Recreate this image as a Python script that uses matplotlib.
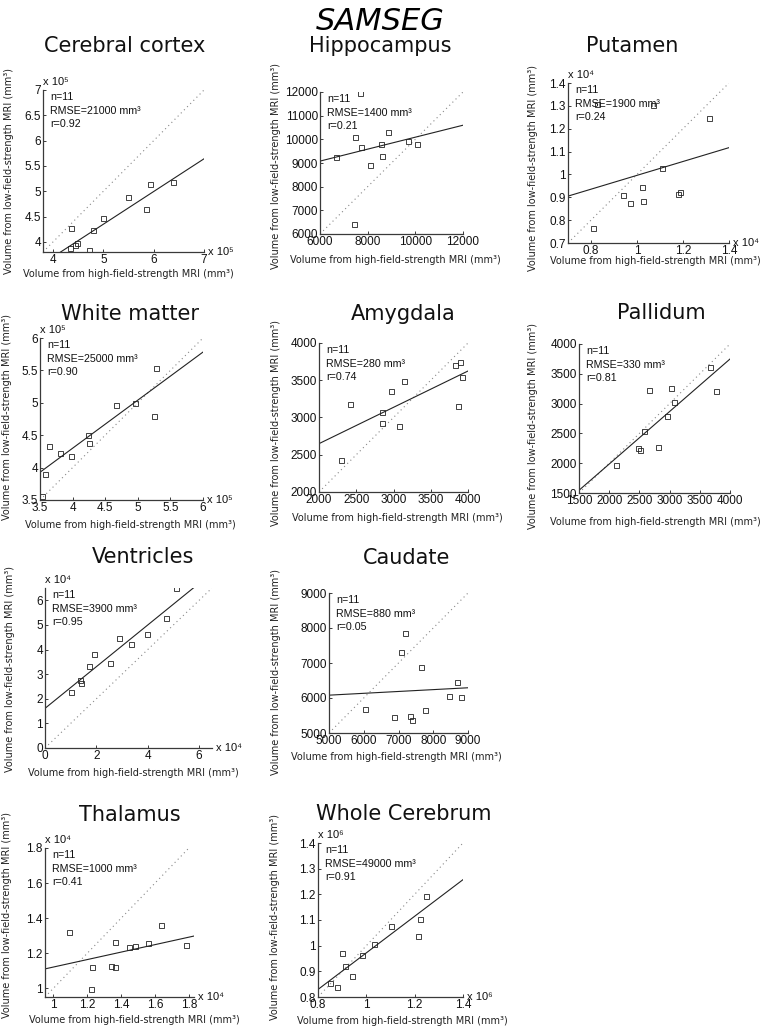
import numpy as np
import matplotlib
matplotlib.use("Agg")
import matplotlib.pyplot as plt
from matplotlib.ticker import FuncFormatter, FixedLocator

# ---------------- data ----------------
titles = ["Cerebral cortex", "Hippocampus", "Putamen", "White matter", "Amygdala",
          "Pallidum", "Ventricles", "Caudate", "Thalamus", "Whole Cerebrum"]

cortex_x = [436000, 434000, 443000, 447000, 479000, 471000, 499000, 548000, 585000, 593000, 639000]
cortex_y = [428000, 387000, 393000, 397000, 424000, 384000, 448000, 489000, 465000, 515000, 519000]
hippo_x = [7690, 7480, 6660, 7730, 8540, 8870, 8090, 8610, 9710, 10090, 7440]
hippo_y = [11970, 10090, 9250, 9680, 9810, 10300, 8920, 9290, 9910, 9820, 6410]
putamen_x = [8100, 9390, 9700, 10230, 10260, 11090, 11800, 11880, 13130, 10700, 8250]
putamen_y = [7650, 9080, 8730, 9430, 8830, 10270, 9150, 9210, 12490, 13050, 13080]
wm_x = [352600, 357200, 363300, 380700, 398000, 424300, 425800, 466300, 496000, 525200, 527300]
wm_y = [356200, 390200, 434000, 422700, 418600, 451000, 437600, 495900, 499000, 478900, 553100]
amyg_x = [2290, 2420, 2850, 2840, 2960, 3070, 3140, 3820, 3890, 3920, 3870]
amyg_y = [2430, 3180, 3070, 2920, 3360, 2880, 3490, 3700, 3750, 3550, 3160]
pall_x = [2110, 2470, 2510, 2570, 2660, 2810, 2960, 3030, 3080, 3670, 3760]
pall_y = [1970, 2250, 2220, 2540, 3230, 2280, 2790, 3260, 3020, 3610, 3210]
vent_x = [10100, 13800, 14000, 17100, 19000, 25200, 28900, 33500, 39600, 47200, 51000]
vent_y = [22800, 27600, 26300, 33300, 38200, 34400, 44600, 42200, 46400, 52800, 64800]
caud_x = [6030, 6860, 7060, 7180, 7320, 7400, 7650, 7750, 8450, 8690, 8800]
caud_y = [5700, 5450, 7310, 7870, 5490, 5370, 6880, 5670, 6060, 6460, 6040]
thal_x = [10900, 12280, 12190, 13380, 13630, 13650, 14490, 14820, 15580, 16340, 17820]
thal_y = [13200, 11210, 9980, 11280, 11210, 12640, 12360, 12410, 12570, 13620, 12490]
wc_x = [851000, 877000, 898000, 913000, 939000, 981000, 1030000, 1103000, 1214000, 1223000, 1248000]
wc_y = [853000, 839000, 971000, 920000, 881000, 962000, 1005000, 1078000, 1036000, 1103000, 1194000]

xs = [cortex_x, hippo_x, putamen_x, wm_x, amyg_x, pall_x, vent_x, caud_x, thal_x, wc_x]
ys = [cortex_y, hippo_y, putamen_y, wm_y, amyg_y, pall_y, vent_y, caud_y, thal_y, wc_y]

fit_slope = [0.646, 0.2527, 0.303, 0.742, 0.4875, 0.881, 0.847, 0.0528, 0.213, 0.713]
fit_intercept = [111900, 7564, 6930, 133100, 1674, 224, 16100, 5817, 9080, 259000]

n_subjects = [11] * 10
rmse = [21000, 1400, 1900, 25000, 280, 330, 3900, 880, 1000, 49000]
r_vals = ["0.92", "0.21", "0.24", "0.90", "0.74", "0.81", "0.95", "0.05", "0.41", "0.91"]

xlims = [(380000, 700000), (6000, 12000), (7000, 14000), (350000, 600000), (2000, 4000),
         (1500, 4000), (0, 65000), (5000, 9000), (9500, 18300), (800000, 1400000)]
ylims = [(380000, 700000), (6000, 12000), (7000, 14000), (350000, 600000), (2000, 4000),
         (1500, 4000), (0, 65000), (5000, 9000), (9500, 18000), (800000, 1400000)]
exponents = [5, None, 4, 5, None, None, 4, None, 4, 6]
xticks = [[4e5, 5e5, 6e5, 7e5], [6000, 8000, 10000, 12000], [8000, 10000, 12000, 14000],
          [3.5e5, 4e5, 4.5e5, 5e5, 5.5e5, 6e5], [2000, 2500, 3000, 3500, 4000],
          [1500, 2000, 2500, 3000, 3500, 4000], [0, 20000, 40000, 60000],
          [5000, 6000, 7000, 8000, 9000], [10000, 12000, 14000, 16000, 18000],
          [8e5, 1e6, 1.2e6, 1.4e6]]
yticks = [[4e5, 4.5e5, 5e5, 5.5e5, 6e5, 6.5e5, 7e5], [6000, 7000, 8000, 9000, 10000, 11000, 12000],
          [7000, 8000, 9000, 10000, 11000, 12000, 13000, 14000],
          [3.5e5, 4e5, 4.5e5, 5e5, 5.5e5, 6e5], [2000, 2500, 3000, 3500, 4000],
          [1500, 2000, 2500, 3000, 3500, 4000], [0, 10000, 20000, 30000, 40000, 50000, 60000],
          [5000, 6000, 7000, 8000, 9000], [10000, 12000, 14000, 16000, 18000],
          [8e5, 9e5, 1e6, 1.1e6, 1.2e6, 1.3e6, 1.4e6]]

xlabel_text = "Volume from high-field-strength MRI (mm³)"
ylabel_text = "Volume from low-field-strength MRI (mm³)"
suptitle_text = "SAMSEG"

# ---------------- layout (pixels) ----------------
W, H = 760, 1027
boxes = [(43, 90, 204, 252), (320, 92, 463, 234), (568, 83, 729, 243),
         (40, 338, 203, 500), (319, 343, 468, 492), (579, 344, 730, 493),
         (45, 588, 212, 748), (329, 593, 468, 733),
         (45, 848, 194, 997), (318, 843, 463, 997)]
title_pos = [(125, 46), (380, 46), (632, 46), (130, 314), (403, 314), (661, 313),
             (143, 557), (407, 558), (130, 815), (404, 814)]
xlabel_pos = [(128, 274), (395, 260), (655, 261), (130, 525), (397, 518), (655, 522),
              (133, 773), (396, 757), (134, 1020), (402, 1021)]
ylabel_pos = [(9, 171), (276, 166), (533, 168), (7, 417), (276, 423), (533, 426),
              (10, 669), (276, 672), (7, 915), (275, 917)]

fig = plt.figure(figsize=(W / 100, H / 100), dpi=100)
fig.patch.set_facecolor("white")

tick_font = ["Liberation Sans", "DejaVu Sans"]
label_font = ["DejaVu Sans"]
axis_color = "#3a3a3a"

fig.text(380 / W, 1 - 21 / H, suptitle_text, ha="center", va="center",
         fontsize=22, style="italic", family=["DejaVu Sans"])

for i in range(10):
    L, T, R, B = boxes[i]
    ax = fig.add_axes([L / W, 1 - B / H, (R - L) / W, (B - T) / H])
    ax.set_facecolor("none")
    x = np.array(xs[i], dtype=float)
    y = np.array(ys[i], dtype=float)
    x0, x1 = xlims[i]
    y0, y1 = ylims[i]
    lo, hi = min(x0, y0), max(x1, y1)
    ax.plot([lo, hi], [lo, hi], linestyle=(0, (1, 3)), color="#888888", lw=0.8)
    fx = np.array([x0, x1])
    ax.plot(fx, fit_slope[i] * fx + fit_intercept[i], color="#222222", lw=0.8)
    ax.plot(x, y, linestyle="none", marker="s", ms=3.6, mfc="none", mec="#222222", mew=0.6)
    ax.set_xlim(x0, x1)
    ax.set_ylim(y0, y1)
    for s in ["top", "right"]:
        ax.spines[s].set_visible(False)
    for s in ["left", "bottom"]:
        ax.spines[s].set_color(axis_color)
        ax.spines[s].set_linewidth(0.9)
    e = exponents[i]
    scale = 10.0 ** e if e is not None else 1.0
    fmt = FuncFormatter(lambda v, p, s=scale: "%g" % round(v / s, 6))
    ax.xaxis.set_major_locator(FixedLocator(xticks[i]))
    ax.yaxis.set_major_locator(FixedLocator(yticks[i]))
    ax.xaxis.set_major_formatter(fmt)
    ax.yaxis.set_major_formatter(fmt)
    ax.tick_params(direction="in", length=2.5, width=0.7, color=axis_color,
                   labelsize=8.5, pad=1.5, labelcolor="#111111")
    for lab in ax.get_xticklabels() + ax.get_yticklabels():
        lab.set_family(tick_font)
    if e is not None:
        sup = {4: "⁴", 5: "⁵", 6: "⁶"}[e]
        ax.annotate("x 10" + sup, xy=(0, 1), xycoords="axes fraction", xytext=(0, 2),
                    textcoords="offset points", ha="left", va="bottom", fontsize=8,
                    family=tick_font, color="#111111")
        ax.annotate("x 10" + sup, xy=(1, 0), xycoords="axes fraction", xytext=(3, 0),
                    textcoords="offset points", ha="left", va="center", fontsize=8,
                    family=tick_font, color="#111111")
    lines = ["n=%d" % n_subjects[i], "RMSE=%d mm³" % rmse[i], "r=" + r_vals[i]]
    for k, t in enumerate(lines):
        ax.annotate(t, xy=(0, 1), xycoords="axes fraction",
                    xytext=(5, -5 - k * 9.8), textcoords="offset points",
                    ha="left", va="center", fontsize=7.7, family=tick_font, color="#111111")
    tx, ty = title_pos[i]
    fig.text(tx / W, 1 - ty / H, titles[i], ha="center", va="center", fontsize=15,
             family=label_font, color="#111111")
    lx, ly = xlabel_pos[i]
    fig.text(lx / W, 1 - ly / H, xlabel_text, ha="center", va="center", fontsize=7,
             family=label_font, color="#222222")
    lx, ly = ylabel_pos[i]
    fig.text(lx / W, 1 - ly / H, ylabel_text, ha="center", va="center", fontsize=7,
             rotation=90, family=label_font, color="#222222")

fig.savefig("out.png", dpi=100, facecolor="white")
